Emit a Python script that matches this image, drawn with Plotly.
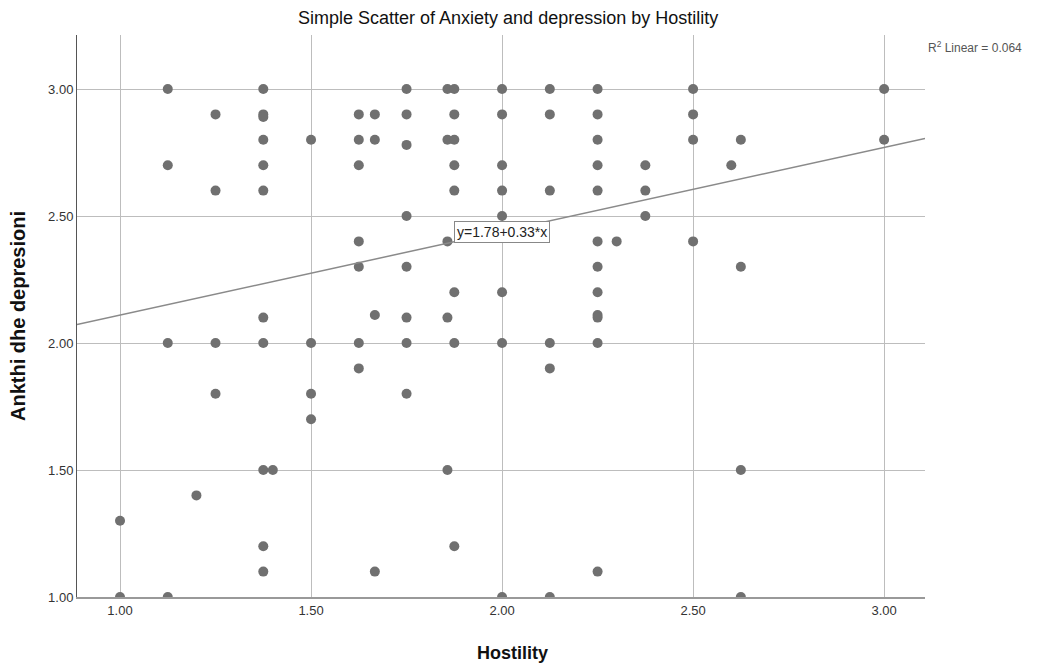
import plotly.graph_objects as go

# Data (Hostility, Anxiety/depression)
hostility = (
    [1.0] * 2 + [1.125] * 4 + [1.2] + [1.25] * 4 + [1.375] * 11 + [1.4] + [1.5] * 4 +
    [1.625] * 7 + [1.667] * 4 + [1.75] * 8 + [1.857] * 5 + [1.875] * 8 + [2.0] * 8 +
    [2.125] * 6 + [2.25] * 12 + [2.3] + [2.375] * 3 + [2.5] * 4 + [2.6] + [2.625] * 4 + [3.0] * 2
)
anxiety_depression = (
    [1.3, 1.0] +
    [3.0, 2.7, 2.0, 1.0] +
    [1.4] +
    [2.9, 2.6, 2.0, 1.8] +
    [3.0, 2.9, 2.89, 2.8, 2.7, 2.6, 2.1, 2.0, 1.5, 1.2, 1.1] +
    [1.5] +
    [2.8, 2.0, 1.8, 1.7] +
    [2.9, 2.8, 2.7, 2.4, 2.3, 2.0, 1.9] +
    [2.9, 2.8, 2.11, 1.1] +
    [3.0, 2.9, 2.78, 2.5, 2.3, 2.1, 2.0, 1.8] +
    [3.0, 2.8, 2.4, 2.1, 1.5] +
    [3.0, 2.9, 2.8, 2.7, 2.6, 2.2, 2.0, 1.2] +
    [3.0, 2.9, 2.7, 2.6, 2.5, 2.2, 2.0, 1.0] +
    [3.0, 2.9, 2.6, 2.0, 1.9, 1.0] +
    [3.0, 2.9, 2.8, 2.7, 2.6, 2.4, 2.3, 2.2, 2.11, 2.1, 2.0, 1.1] +
    [2.4] +
    [2.7, 2.6, 2.5] +
    [3.0, 2.9, 2.8, 2.4] +
    [2.7] +
    [2.8, 2.3, 1.5, 1.0] +
    [3.0, 2.8]
)

fit_intercept = 1.78
fit_slope = 0.33
fit_label = "y=1.78+0.33*x"
r2_text = "R<sup>2</sup> Linear = 0.064"
title_text = "Simple Scatter of Anxiety and depression by Hostility"
x_title = "Hostility"
y_title = "Ankthi dhe depresioni"

x_ticks = [1.0, 1.5, 2.0, 2.5, 3.0]
y_ticks = [1.0, 1.5, 2.0, 2.5, 3.0]
x_range = [0.8874, 3.107]
y_range = [1.0, 3.2126]

SANS = "Liberation Sans, Arial, sans-serif"

fig = go.Figure()
fig.add_trace(go.Scatter(
    x=hostility, y=anxiety_depression, mode="markers",
    marker=dict(color="#707070", size=10, line=dict(width=0)),
    showlegend=False, hoverinfo="x+y",
))
fit_x = [x_range[0], x_range[1]]
fit_y = [fit_intercept + fit_slope * v for v in fit_x]
fig.add_trace(go.Scatter(
    x=fit_x, y=fit_y, mode="lines",
    line=dict(color="#8a8a8a", width=1.5),
    showlegend=False, hoverinfo="skip",
))

# regression equation label
fig.add_annotation(
    x=2.0, y=2.437, xref="x", yref="y",
    text=fit_label, showarrow=False,
    font=dict(family=SANS, size=14, color="#222"),
    bgcolor="white", bordercolor="#888", borderwidth=1, borderpad=2,
)
# R squared
fig.add_annotation(
    x=1.0012, y=0.9786, xref="paper", yref="paper", xanchor="left", yanchor="middle",
    text=r2_text, showarrow=False,
    font=dict(family=SANS, size=12, color="#555"),
)
# chart title
fig.add_annotation(
    x=0.508, y=1.031, xref="paper", yref="paper", xanchor="center", yanchor="middle",
    text=title_text, showarrow=False,
    font=dict(family=SANS, size=18, color="#111"),
)
# axis titles
fig.add_annotation(
    x=0.514, y=-0.0996, xref="paper", yref="paper", xanchor="center", yanchor="middle",
    text="<b>" + x_title + "</b>", showarrow=False,
    font=dict(family=SANS, size=18, color="#111"),
)
fig.add_annotation(
    x=-0.0696, y=0.5, xref="paper", yref="paper", xanchor="center", yanchor="middle",
    text="<b>" + y_title + "</b>", showarrow=False, textangle=-90,
    font=dict(family=SANS, size=20, color="#111"),
)

fig.update_layout(
    width=1044, height=668,
    margin=dict(l=69, r=127, t=27, b=79, autoexpand=False),
    paper_bgcolor="white", plot_bgcolor="white",
    font=dict(family=SANS),
)
fig.update_xaxes(
    range=x_range, tickvals=x_ticks, tickformat=".2f",
    showgrid=True, gridcolor="#bdbdbd", gridwidth=1,
    zeroline=False, showline=True, linecolor="#999", linewidth=2,
    ticks="", tickfont=dict(family=SANS, size=13, color="#333"),
    automargin=False,
)
fig.update_yaxes(
    range=y_range, tickvals=y_ticks, tickformat=".2f",
    showgrid=True, gridcolor="#bdbdbd", gridwidth=1,
    zeroline=False, showline=True, linecolor="#555", linewidth=1,
    ticks="", tickfont=dict(family=SANS, size=13, color="#333"),
    automargin=False,
)

fig.write_html("out.html")
